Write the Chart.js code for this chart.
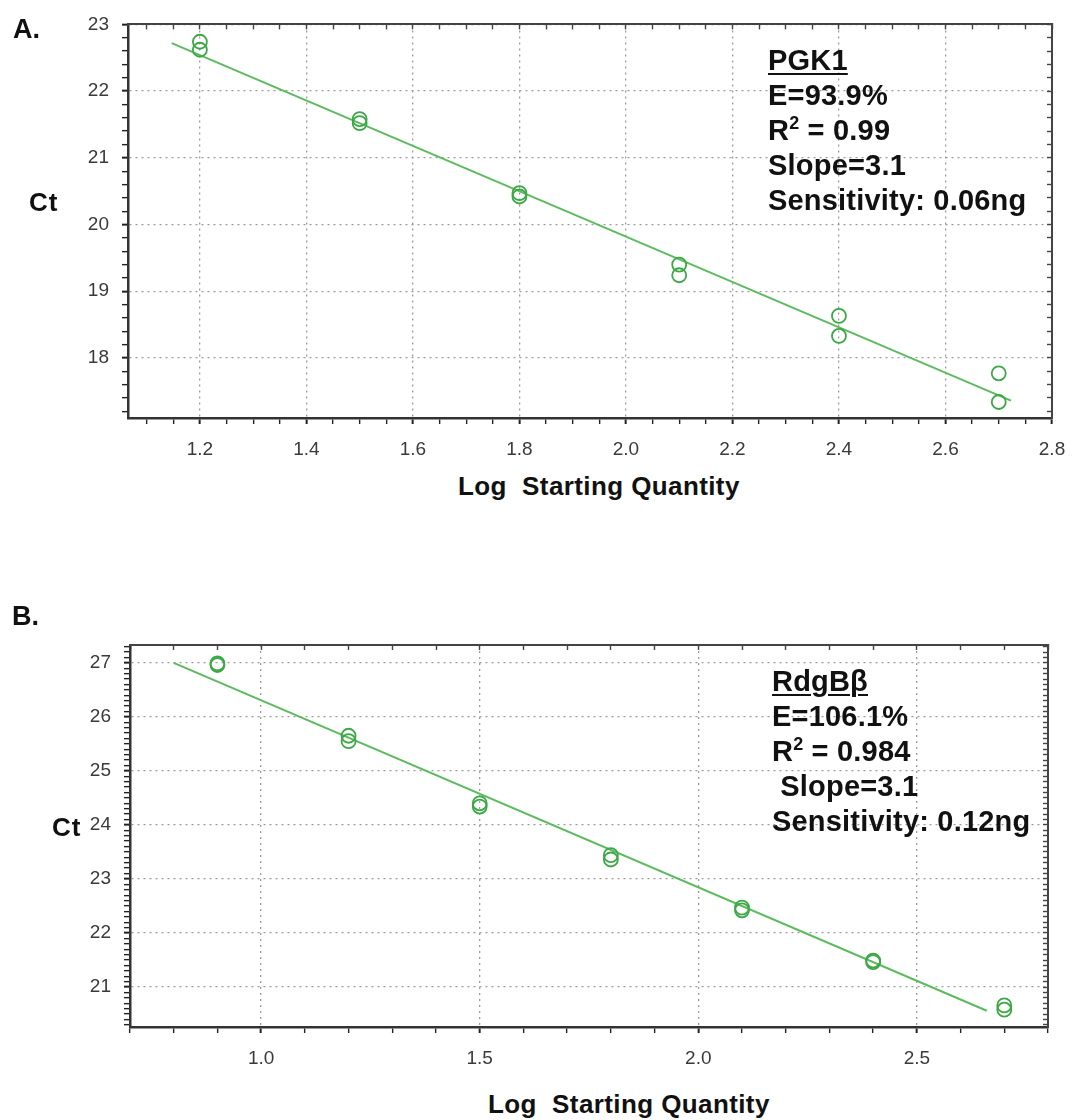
<!DOCTYPE html>
<html>
<head>
<meta charset="utf-8">
<script src="https://cdn.jsdelivr.net/npm/chart.js@4.4.1/dist/chart.umd.min.js"></script>
<style>
  body { margin: 0; background: #fff; }
  #page { position: relative; width: 1089px; height: 1120px; overflow: hidden;
          font-family: "Liberation Sans", Arial, sans-serif; }
  canvas { position: absolute; left: 0; }
  .lbl { position: absolute; font-weight: bold; color: #111; white-space: nowrap; line-height: 1; }
  .stats { position: absolute; font-weight: bold; color: #111; white-space: nowrap;
           font-size: 29px; line-height: 35px; letter-spacing: 0.2px; }
  .stats u { text-decoration-thickness: 2px; text-underline-offset: 3px; }
  .sup { font-size: 0.62em; vertical-align: 0.6em; line-height: 0; }
</style>
</head>
<body>
<div id="page">
  <canvas id="chartA" width="1089" height="470" style="top:0"></canvas>
  <canvas id="chartB" width="1089" height="480" style="top:600px"></canvas>

  <div class="lbl" style="left:13px; top:16px; font-size:27px;">A.</div>
  <div class="lbl" style="left:29px; top:189px; font-size:26px; letter-spacing:1px;">Ct</div>
  <div class="lbl" style="left:458px; top:473px; font-size:26px; letter-spacing:0.4px;">Log&nbsp;&nbsp;Starting Quantity</div>
  <div class="stats" style="left:768px; top:43px;">
    <u>PGK1</u><br>E=93.9%<br>R<span class="sup">2</span> = 0.99<br>Slope=3.1<br>Sensitivity: 0.06ng
  </div>

  <div class="lbl" style="left:12px; top:603px; font-size:27px;">B.</div>
  <div class="lbl" style="left:52px; top:814px; font-size:26px; letter-spacing:1px;">Ct</div>
  <div class="lbl" style="left:488px; top:1091px; font-size:26px; letter-spacing:0.4px;">Log&nbsp;&nbsp;Starting Quantity</div>
  <div class="stats" style="left:772px; top:664px;">
    <u>RdgBβ</u><br>E=106.1%<br>R<span class="sup">2</span> = 0.984<br>&nbsp;Slope=3.1<br>Sensitivity: 0.12ng
  </div>
</div>

<script>
// ---- panel A: PGK1 standard curve
const logQtyA = [1.2, 1.2, 1.5, 1.5, 1.8, 1.8, 2.1, 2.1, 2.4, 2.4, 2.7, 2.7];
const ctA = [22.74, 22.62, 21.58, 21.52, 20.47, 20.42, 19.40, 19.24, 18.63, 18.33, 17.77, 17.34];
const fitXA = [1.147, 2.723];
const fitYA = [22.72, 17.36];
const xTicksA = [1.2, 1.4, 1.6, 1.8, 2.0, 2.2, 2.4, 2.6, 2.8];
const yTicksA = [18, 19, 20, 21, 22, 23];

// ---- panel B: RdgBβ standard curve
const logQtyB = [0.9, 0.9, 1.2, 1.2, 1.5, 1.5, 1.8, 1.8, 2.1, 2.1, 2.4, 2.4, 2.7, 2.7];
const ctB = [26.99, 26.96, 25.65, 25.55, 24.40, 24.34, 23.44, 23.36, 22.47, 22.42, 21.49, 21.46, 20.66, 20.58];
const fitXB = [0.80, 2.66];
const fitYB = [27.0, 20.56];
const xTicksB = [1.0, 1.5, 2.0, 2.5];
const yTicksB = [21, 22, 23, 24, 25, 26, 27];

const pointGreen = '#3ca845';
const lineGreen = '#5cbb5e';

function isMajor(list, v) {
  return list.some(m => Math.abs(m - v) < 1e-6);
}

function toPoints(xs, ys) {
  return xs.map((x, i) => ({ x: x, y: ys[i] }));
}

function makeChart(id, pts, fit, cfg) {
  const tickFont = { family: '"Liberation Sans", Arial', size: 19 };
  const gridColor = list => c => (c.tick && isMajor(list, c.tick.value)) ? '#9c9c9c' : 'rgba(0,0,0,0)';
  const tickW = list => c => (c.tick && isMajor(list, c.tick.value)) ? 2 : 1.4;

  return new Chart(document.getElementById(id), {
    type: 'scatter',
    data: {
      datasets: [
        {
          data: pts,
          pointStyle: 'circle',
          pointRadius: cfg.r,
          pointBorderWidth: 1.8,
          pointBorderColor: pointGreen,
          pointBackgroundColor: 'rgba(0,0,0,0)',
          showLine: false
        },
        {
          data: fit,
          showLine: true,
          borderColor: lineGreen,
          borderWidth: 2,
          pointRadius: 0
        }
      ]
    },
    options: {
      responsive: false,
      animation: false,
      events: [],
      plugins: { legend: { display: false }, tooltip: { enabled: false } },
      layout: { padding: { left: 0, top: cfg.padTop, right: cfg.padRight, bottom: 0 } },
      scales: {
        x: {
          type: 'linear', position: 'bottom', min: cfg.xMin, max: cfg.xMax,
          afterFit: s => { s.height = cfg.xAxisH; },
          ticks: {
            stepSize: cfg.xStep, autoSkip: false, includeBounds: false, maxRotation: 0,
            color: '#3a3a3a', font: tickFont, padding: 14,
            callback: v => isMajor(cfg.xMajor, v) ? v.toFixed(1) : ''
          },
          grid: { color: gridColor(cfg.xMajor), lineWidth: 1.3, tickLength: 6, tickColor: '#222', tickWidth: tickW(cfg.xMajor) },
          border: { display: true, color: '#333', width: 2.5, dash: [2, 4] }
        },
        y: {
          type: 'linear', position: 'left', min: cfg.yMin, max: cfg.yMax,
          afterFit: s => { s.width = cfg.yAxisW; },
          ticks: {
            stepSize: cfg.yStep, autoSkip: false, includeBounds: false,
            color: '#3a3a3a', font: tickFont, padding: 13,
            callback: v => isMajor(cfg.yMajor, v) ? String(Math.round(v)) : ''
          },
          grid: { color: gridColor(cfg.yMajor), lineWidth: 1.3, tickLength: 6, tickColor: '#222', tickWidth: tickW(cfg.yMajor) },
          border: { display: true, color: '#333', width: 2.5, dash: [2, 4] }
        },
        x2: {
          type: 'linear', position: 'top', min: cfg.xMin, max: cfg.xMax,
          afterFit: s => { s.height = 0; },
          ticks: { display: false, stepSize: cfg.xStep, autoSkip: false, includeBounds: false },
          grid: { drawOnChartArea: false, tickLength: -5, tickColor: '#444', tickWidth: 1.4 },
          border: { display: true, color: '#444', width: 2 }
        },
        y2: {
          type: 'linear', position: 'right', min: cfg.yMin, max: cfg.yMax,
          afterFit: s => { s.width = 0; },
          ticks: { display: false, stepSize: cfg.yStep, autoSkip: false, includeBounds: false },
          grid: { drawOnChartArea: false, tickLength: -5, tickColor: '#444', tickWidth: 1.4 },
          border: { display: true, color: '#444', width: 2 }
        }
      }
    }
  });
}

makeChart('chartA', toPoints(logQtyA, ctA), toPoints(fitXA, fitYA), {
  xMin: 1.065, xMax: 2.8, xStep: 0.05, xMajor: xTicksA,
  yMin: 17.1, yMax: 23.0, yStep: 0.2, yMajor: yTicksA,
  padTop: 20, padRight: 37, xAxisH: 52, yAxisW: 128, r: 7
});

makeChart('chartB', toPoints(logQtyB, ctB), toPoints(fitXB, fitYB), {
  xMin: 0.7, xMax: 2.8, xStep: 0.1, xMajor: xTicksB,
  yMin: 20.26, yMax: 27.33, yStep: 0.1, yMajor: yTicksB,
  padTop: 45, padRight: 41, xAxisH: 53, yAxisW: 130, r: 7
});
</script>
</body>
</html>
